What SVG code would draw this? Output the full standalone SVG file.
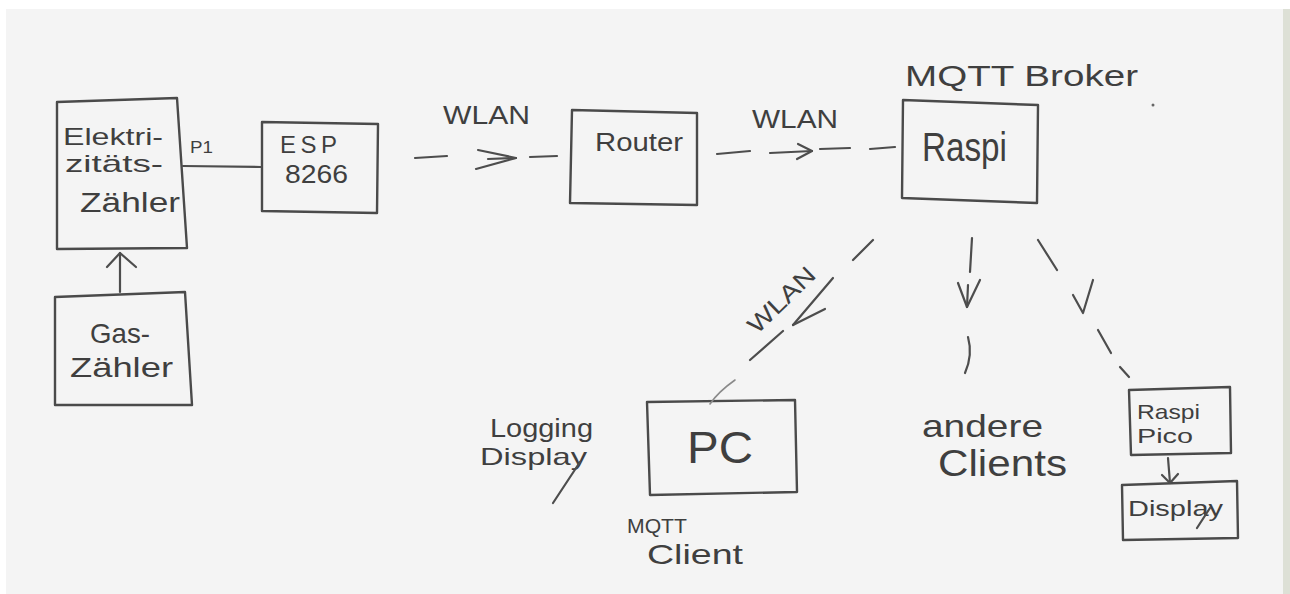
<svg xmlns="http://www.w3.org/2000/svg" width="1290" height="594" viewBox="0 0 1290 594">
<style>
.box{fill:none;stroke:#4a4a4a;stroke-width:2.4;stroke-linejoin:round}
.ln{fill:none;stroke:#4d4d4d;stroke-width:2.2;stroke-linecap:round;stroke-linejoin:round}
.faint{fill:none;stroke:#8a8a8a;stroke-width:1.6;stroke-linecap:round}
text{font-family:"Liberation Sans",Arial,sans-serif;fill:#3f3f3f}
</style>
<rect x="0" y="0" width="1290" height="594" fill="#ffffff"/>
<rect x="6" y="9" width="1277" height="585" fill="#f4f4f4"/>
<rect x="1283" y="9" width="7" height="585" fill="#dde0d6"/>

<g id="elektrizitaetszaehler">
<polygon class="box" points="57,102 177,98 187,248 57,249"/>
<text x="63" y="145" font-size="24" textLength="100" lengthAdjust="spacingAndGlyphs">Elektri-</text>
<text x="65" y="172" font-size="24" textLength="98" lengthAdjust="spacingAndGlyphs">zitäts-</text>
<text x="80" y="212" font-size="27" textLength="100" lengthAdjust="spacingAndGlyphs">Zähler</text>
</g>

<g id="gaszaehler">
<polygon class="box" points="55,297 185,292 192,405 55,405"/>
<text x="90" y="343" font-size="28" textLength="60" lengthAdjust="spacingAndGlyphs">Gas-</text>
<text x="70" y="377" font-size="28" textLength="103" lengthAdjust="spacingAndGlyphs">Zähler</text>
</g>

<g id="esp8266">
<polygon class="box" points="262,122 378,124 377,213 262,211"/>
<text x="280" y="153" font-size="24" textLength="57" lengthAdjust="spacing">ESP</text>
<text x="285" y="183" font-size="25" textLength="63" lengthAdjust="spacingAndGlyphs">8266</text>
</g>

<g id="router">
<polygon class="box" points="572,110 697,113 697,205 570,203"/>
<text x="595" y="151" font-size="26" textLength="88" lengthAdjust="spacingAndGlyphs">Router</text>
</g>

<g id="raspi">
<polygon class="box" points="903,100 1038,105 1037,203 902,198"/>
<text x="922" y="161" font-size="40" textLength="85" lengthAdjust="spacingAndGlyphs">Raspi</text>
<text x="905" y="86" font-size="30" textLength="233" lengthAdjust="spacingAndGlyphs">MQTT Broker</text>
<circle cx="1153" cy="105" r="1.5" fill="#666"/>
</g>

<g id="pc">
<polygon class="box" points="647,402 795,400 797,492 650,495"/>
<text x="687" y="463" font-size="44" textLength="66" lengthAdjust="spacingAndGlyphs">PC</text>
<text x="490" y="437" font-size="26" textLength="103" lengthAdjust="spacingAndGlyphs">Logging</text>
<text x="480" y="465" font-size="24" textLength="107" lengthAdjust="spacingAndGlyphs">Display</text>
<line class="ln" x1="580" y1="462" x2="553" y2="503"/>
<text x="627" y="533" font-size="21" textLength="60" lengthAdjust="spacingAndGlyphs">MQTT</text>
<text x="647" y="564" font-size="28" textLength="96" lengthAdjust="spacingAndGlyphs">Client</text>
</g>

<g id="andere-clients">
<text x="922" y="437" font-size="32" textLength="121" lengthAdjust="spacingAndGlyphs">andere</text>
<text x="938" y="476" font-size="36" textLength="129" lengthAdjust="spacingAndGlyphs">Clients</text>
</g>

<g id="raspi-pico">
<polygon class="box" points="1129,390 1230,387 1231,453 1131,455"/>
<text x="1137" y="419" font-size="21" textLength="63" lengthAdjust="spacingAndGlyphs">Raspi</text>
<text x="1137" y="443" font-size="21" textLength="56" lengthAdjust="spacingAndGlyphs">Pico</text>
</g>

<g id="display">
<polygon class="box" points="1122,485 1237,481 1238,538 1123,540"/>
<text x="1128" y="516" font-size="22" textLength="95" lengthAdjust="spacingAndGlyphs">Display</text>
<line class="ln" x1="1210" y1="508" x2="1197" y2="528"/>
</g>

<g id="connectors">
<!-- P1 -->
<line class="ln" x1="183" y1="166" x2="261" y2="167"/>
<text x="190" y="153" font-size="17" textLength="23" lengthAdjust="spacingAndGlyphs">P1</text>
<!-- Gas to Elektr -->
<line class="ln" x1="120" y1="292" x2="120" y2="253"/>
<polyline class="ln" points="107,267 120,253 136,267"/>
<!-- ESP to Router -->
<text x="443" y="124" font-size="25" textLength="87" lengthAdjust="spacingAndGlyphs">WLAN</text>
<line class="ln" x1="415" y1="158" x2="447" y2="156"/>
<line class="ln" x1="488" y1="159" x2="516" y2="158"/>
<polyline class="ln" points="478,150 516,158 476,169"/>
<line class="ln" x1="530" y1="157" x2="557" y2="156"/>
<!-- Router to Raspi -->
<text x="752" y="128" font-size="25" textLength="86" lengthAdjust="spacingAndGlyphs">WLAN</text>
<line class="ln" x1="717" y1="154" x2="750" y2="151"/>
<line class="ln" x1="770" y1="153" x2="812" y2="151"/>
<polyline class="ln" points="798,144 812,151 797,159"/>
<line class="ln" x1="820" y1="149" x2="850" y2="148"/>
<line class="ln" x1="870" y1="149" x2="895" y2="147"/>
<!-- Raspi to PC -->
<line class="ln" x1="873" y1="240" x2="853" y2="260"/>
<text x="0" y="0" font-size="24" textLength="84" lengthAdjust="spacingAndGlyphs" transform="translate(757,335) rotate(-44)">WLAN</text>
<line class="ln" x1="833" y1="278" x2="793" y2="325"/>
<line class="ln" x1="793" y1="325" x2="825" y2="309"/>
<line class="ln" x1="783" y1="331" x2="750" y2="360"/>
<path class="faint" d="M735,380 Q718,392 710,404"/>
<!-- Raspi to andere Clients -->
<line class="ln" x1="972" y1="238" x2="970" y2="272"/>
<line class="ln" x1="968" y1="285" x2="967" y2="307"/>
<polyline class="ln" points="958,283 967,307 980,280"/>
<path class="ln" d="M968,337 Q973,355 965,373"/>
<!-- Raspi to Raspi Pico -->
<line class="ln" x1="1038" y1="240" x2="1057" y2="270"/>
<polyline class="ln" points="1073,295 1083,313 1093,280"/>
<line class="ln" x1="1098" y1="330" x2="1111" y2="353"/>
<line class="ln" x1="1120" y1="367" x2="1129" y2="377"/>
<!-- Pico to Display -->
<line class="ln" x1="1168" y1="458" x2="1170" y2="483"/>
<polyline class="ln" points="1162,475 1170,483 1178,474"/>
</g>
</svg>
